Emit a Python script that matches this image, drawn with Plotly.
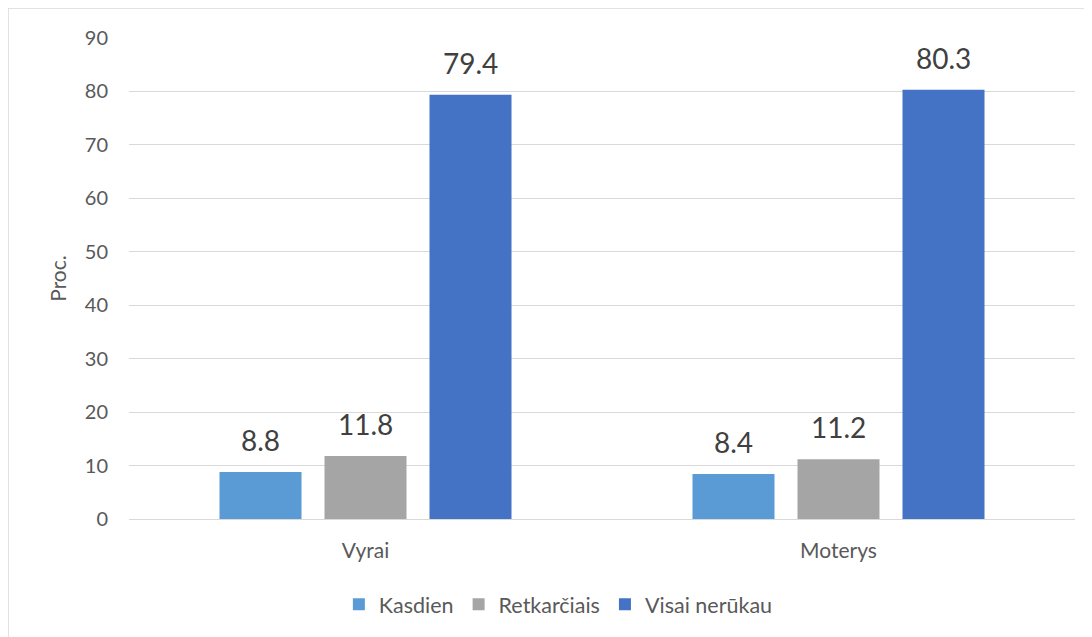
import plotly.graph_objects as go

categories = ["Vyrai", "Moterys"]
series_names = ["Kasdien", "Retkarčiais", "Visai nerūkau"]
kasdien = [8.8, 8.4]
retkarciais = [11.8, 11.2]
visai_nerukau = [79.4, 80.3]
y_ticks = [0, 10, 20, 30, 40, 50, 60, 70, 80, 90]
colors = ["#5B9BD5", "#A5A5A5", "#4472C4"]

FONT = "Lato, 'Open Sans', sans-serif"
BARGAP = 0.334
all_series = [kasdien, retkarciais, visai_nerukau]

fig = go.Figure()
for name, vals, col in zip(series_names, all_series, colors):
    fig.add_trace(go.Bar(
        name=name, x=categories, y=vals,
        marker=dict(color=col, line=dict(width=0)),
    ))

# value labels placed at data coordinates above each bar
annotations = []
n = len(all_series)
slot = (1 - BARGAP) / n
for si, vals in enumerate(all_series):
    for ci, v in enumerate(vals):
        annotations.append(dict(
            x=ci + (si - (n - 1) / 2) * slot, y=v, xref="x", yref="y",
            text=f"{v:.1f}", showarrow=False, yanchor="bottom", yshift=13,
            font=dict(size=28, color="#404040", family=FONT),
        ))

W, H = 1092, 637
L, T, B, R = 121, 30, 126, 25
pw, ph = W - L - R, H - T - B

fig.update_layout(
    width=W, height=H,
    paper_bgcolor="white", plot_bgcolor="white",
    barmode="group", bargap=BARGAP, bargroupgap=0.219,
    margin=dict(l=L, r=R, t=T, b=B, autoexpand=False),
    font=dict(family=FONT, color="#595959", size=21),
    showlegend=True,
    legend=dict(orientation="h", xref="container", yref="container",
                x=0.504, xanchor="center", y=0.064, yanchor="middle",
                font=dict(size=21.5, color="#595959"), traceorder="normal"),
    yaxis=dict(range=[0, 90], tickvals=y_ticks, showgrid=True, gridcolor="#D9D9D9",
               gridwidth=1, zeroline=True, zerolinecolor="#D9D9D9", zerolinewidth=1,
               showline=False, ticks="", ticklabelstandoff=20, automargin=False,
               tickfont=dict(size=20, color="#595959"),
               title=dict(text="Proc.", font=dict(size=21, color="#595959"), standoff=12)),
    xaxis=dict(showline=False, ticks="", ticklabelstandoff=17, automargin=False,
               tickfont=dict(size=21, color="#595959")),
    annotations=annotations,
    shapes=[dict(type="rect", xref="paper", yref="paper",
                 x0=-L / pw, x1=1.2, y0=-0.5, y1=1 + T / ph,
                 line=dict(color="#D9D9D9", width=1.5), fillcolor="rgba(0,0,0,0)",
                 layer="below")],
)

fig.write_html("out.html")
